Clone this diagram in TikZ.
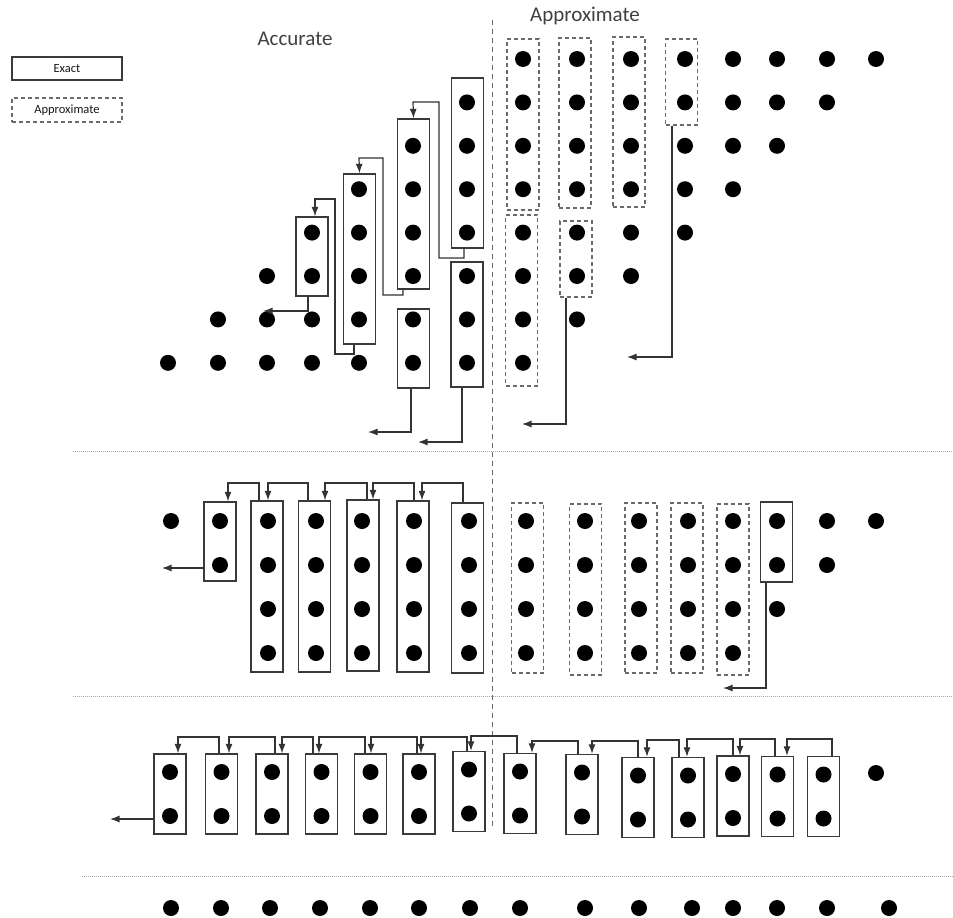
\documentclass[tikz,border=0pt]{standalone}
\usepackage{fontspec}
\setmainfont{Carlito}
\usetikzlibrary{arrows.meta}
\definecolor{boxc}{HTML}{3A3A3A}
\definecolor{dashc}{HTML}{6A6A6A}
\definecolor{linec}{HTML}{333333}
\definecolor{sepc}{HTML}{A8A8A8}
\begin{document}
\begin{tikzpicture}[x=1pt,y=-1pt,
  dot/.style={circle,fill=black,draw=none,minimum size=16pt,inner sep=0pt},
  exbox/.style={rectangle,draw=boxc,line width=1.3pt,minimum width=32pt,inner sep=0pt},
  apbox/.style={rectangle,draw=dashc,line width=1.1pt,dash pattern=on 4pt off 3pt,minimum width=32pt,inner sep=0pt},
  arr/.style={draw=linec,line width=1.2pt,-{Latex[length=9.5pt,width=7pt]}},
  sep/.style={draw=sepc,line width=0.9pt,dash pattern=on 1pt off 1pt},
  title/.style={font=\fontsize{21}{24}\selectfont,text=black!75},
  legtxt/.style={font=\fontsize{12.5}{14}\selectfont,text=black!90}]
\useasboundingbox (0,0) rectangle (953,918);

% ---------- legend ----------
\node[exbox,line width=1.6pt,minimum width=110pt,minimum height=23pt] (legE) at (67,68.5) {};
\node[legtxt] (legEt) at (legE) {Exact};
\node[apbox,minimum width=110pt,minimum height=24pt] (legA) at (67,110) {};
\node[legtxt] (legAt) at (legA) {Approximate};

% ---------- titles ----------
\node[title] (tacc) at (295,39) {Accurate};
\node[title] (tapp) at (585,16) {Approximate};

% ---------- separators ----------
\draw[draw=dashc,line width=1pt,dash pattern=on 5pt off 4pt] (492,20) -- (492,827);
\draw[sep] (73,451) -- (953,451);
\draw[sep] (73,696) -- (953,696);
\draw[sep] (82,876) -- (953,876);

% ---------- top section: boxes ----------
\node[exbox,minimum height=79pt]  (T4)  at (312,256.5) {};
\node[exbox,minimum height=170pt] (T5)  at (359.5,259) {};
\node[exbox,minimum height=170pt] (T6a) at (413.5,204) {};
\node[exbox,minimum height=79pt]  (T6b) at (413.5,348.5) {};
\node[exbox,minimum height=170pt] (T7a) at (467.5,163) {};
\node[exbox,minimum height=125pt] (T7b) at (467,324.5) {};
\node[apbox,minimum height=171pt] (A8a) at (523,124.5) {};
\node[apbox,minimum height=171pt] (A8b) at (521.5,300.5) {};
\node[apbox,minimum height=170pt] (A9a) at (575,123) {};
\node[apbox,minimum height=76pt]  (A9b) at (576,259) {};
\node[apbox,minimum height=170pt] (A10a) at (629,122) {};
\node[apbox,minimum height=86pt]  (A11a) at (681.5,82) {};

% ---------- top section: dots ----------
\foreach \x [count=\i] in {168,218,267,312,359,413,467,523,577,631,685,733,777,827,876}{
  \pgfmathtruncatemacro\rlo{max(1,9-\i)}
  \pgfmathtruncatemacro\rhi{min(8,16-\i)}
  \foreach \r in {\rlo,...,\rhi}{
    \node[dot] (t-\i-\r) at (\x,{59+(\r-1)*43.4}) {};
  }
}

% ---------- top section: connectors ----------
\coordinate (eT4) at (263,311);
\draw[arr] ([xshift=-4pt]T4.south) |- (eT4);
\draw[arr] ([xshift=-5.5pt]T5.south) |- (335,354) |- (315,199) -- ([xshift=3pt]T4.north);
\draw[arr] ([xshift=-10.5pt]T6a.south) |- (383,295) |- (359,158) -- (T5.north);
\draw[arr] ([xshift=-3.5pt]T7a.south) |- (439,258) |- (413,102) -- (T6a.north);
\coordinate (eT6b) at (368,432);
\draw[arr] ([xshift=-2.5pt]T6b.south) |- (eT6b);
\coordinate (eT7b) at (418,442);
\draw[arr] ([xshift=-5pt]T7b.south) |- (eT7b);
\coordinate (eA9b) at (522,424);
\draw[arr] ([xshift=-10pt]A9b.south) |- (eA9b);
\coordinate (eA11) at (627,357);
\draw[arr] ([xshift=-9.5pt]A11a.south) |- (eA11);

% ---------- middle section: boxes ----------
\node[exbox,minimum height=79pt]  (M2)  at (220,541.5) {};
\node[exbox,minimum height=171pt] (M3)  at (267,586.5) {};
\node[exbox,minimum height=171pt] (M4)  at (314.5,586.5) {};
\node[exbox,minimum height=171pt] (M5)  at (363,585.5) {};
\node[exbox,minimum height=171pt] (M6)  at (413,586.5) {};
\node[exbox,minimum height=170pt] (M7)  at (467.5,588) {};
\node[apbox,minimum height=170pt] (M8)  at (527.5,588) {};
\node[apbox,minimum height=171pt] (M9)  at (585.5,589.5) {};
\node[apbox,minimum height=170pt] (M10) at (641,588) {};
\node[apbox,minimum height=170pt] (M11) at (687,588) {};
\node[apbox,minimum height=171pt] (M12) at (733,589.5) {};
\node[exbox,minimum height=80pt]  (M13) at (776.5,542) {};

% ---------- middle section: dots ----------
\foreach \x/\n [count=\i] in {171/1,220/2,268/4,316/4,362/4,414/4,469/4,526/4,585/4,639/4,688/4,733/4,777/3,827/2,876/1}{
  \foreach \r in {1,...,\n}{
    \node[dot] (m-\i-\r) at (\x,{521+(\r-1)*44}) {};
  }
}

% ---------- middle section: connectors ----------
\coordinate (eM2) at (162,568);
\draw[arr] (M2.west |- 0,568) -- (eM2);
\draw[arr] (M3.north -| 259,0) |- (228,483) -- (M2.north -| 228,0);
\draw[arr] (M4.north -| 308,0) |- (268,483) -- (M3.north -| 268,0);
\draw[arr] (M5.north -| 367,0) |- (325,483) -- (M4.north -| 325,0);
\draw[arr] (M6.north -| 414,0) |- (373,483) -- (M5.north -| 373,0);
\draw[arr] (M7.north -| 463,0) |- (422,483) -- (M6.north -| 422,0);
\coordinate (eM13) at (723,688);
\draw[arr] (M13.south -| 766,0) |- (eM13);

% ---------- bottom section: boxes with dots ----------
\foreach \cx/\cy [count=\i] in {170/794,221.5/794,272/794,321.5/794,370.5/794,419/794,469/791.5,520/793.5,582/794.5,638/797.5,688/797.5,733/796,777.5/796.5,823.5/796.5}{
  \node[exbox,minimum height=80pt] (B\i) at (\cx,\cy) {};
  \node[dot] (b-\i-1) at (\cx,\cy-22) {};
  \node[dot] (b-\i-2) at (\cx,\cy+22) {};
}
\node[dot] (b-15-1) at (876,773) {};

% ---------- bottom section: connectors ----------
\foreach \i/\xs/\xa/\yh in {2/219/178/737,3/275/229/737,4/313/282/737,5/365/319/737,6/417/371/737,7/467/421/737,8/517/471/736,9/578/532/741,10/638/592/741,11/679/647/740,12/733/687/739,13/775/740/739,14/832/787/739}{
  \pgfmathtruncatemacro\j{\i-1}
  \draw[arr] (B\i.north -| \xs,0) |- (\xa,\yh) -- (B\j.north -| \xa,0);
}
\coordinate (eB1) at (110,819);
\draw[arr] (B1.west |- 0,819) -- (eB1);

% ---------- last row of dots ----------
\foreach \x [count=\i] in {171,221,270,320,370,419,470,520,585,639,692,733,777,827,889}{
  \node[dot] (z-\i) at (\x,908) {};
}
\end{tikzpicture}
\end{document}
